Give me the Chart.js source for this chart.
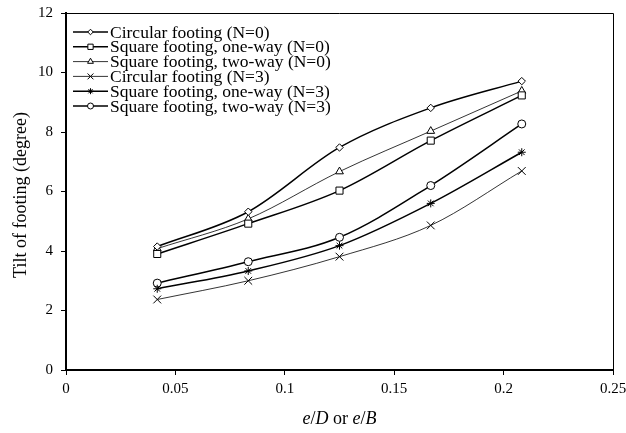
<!DOCTYPE html>
<html>
<head>
<meta charset="utf-8">
<script src="https://cdn.jsdelivr.net/npm/chart.js@4/dist/chart.umd.min.js"></script>
<style>
html,body{margin:0;padding:0;background:#fff;}
#wrap{width:626px;height:433px;position:relative;}
</style>
</head>
<body>
<div id="wrap"><canvas id="c" width="626" height="433"></canvas></div>
<script>
const xValues = [0.0417, 0.0833, 0.125, 0.1667, 0.2083];
const xTickLabels = ["0", "0.05", "0.1", "0.15", "0.2", "0.25"];
const yTickLabels = ["0", "2", "4", "6", "8", "10", "12"];
const seriesNames = [
  "Circular footing (N=0)",
  "Square footing, one-way (N=0)",
  "Square footing, two-way (N=0)",
  "Circular footing (N=3)",
  "Square footing, one-way (N=3)",
  "Square footing, two-way (N=3)"
];
const circularN0 = [4.15, 5.32, 7.48, 8.81, 9.71];
const squareOneWayN0 = [3.9, 4.92, 6.03, 7.71, 9.23];
const squareTwoWayN0 = [4.08, 5.08, 6.67, 8.03, 9.38];
const circularN3 = [2.37, 3.0, 3.81, 4.86, 6.69];
const squareOneWayN3 = [2.73, 3.33, 4.18, 5.6, 7.32];
const squareTwoWayN3 = [2.92, 3.64, 4.46, 6.2, 8.27];

const seriesValues = [circularN0, squareOneWayN0, squareTwoWayN0, circularN3, squareOneWayN3, squareTwoWayN3];
const styles = [
  {pointStyle:'rectRot', w:1.5, r:3.7},
  {pointStyle:'rect', w:1.5, r:5},
  {pointStyle:'triangle', w:0.8, r:4.5},
  {pointStyle:'crossRot', w:0.8, r:5.5},
  {pointStyle:'star', w:1.5, r:4},
  {pointStyle:'circle', w:1.5, r:4}
];

const datasets = seriesValues.map((vals, i) => ({
  label: seriesNames[i],
  data: vals.map((v, j) => ({x: xValues[j], y: v})),
  borderColor: '#000',
  backgroundColor: '#fff',
  borderWidth: styles[i].w,
  pointStyle: styles[i].pointStyle,
  pointRadius: styles[i].r,
  pointBorderWidth: 1,
  pointBorderColor: '#000',
  pointBackgroundColor: '#fff',
  cubicInterpolationMode: 'monotone',
  fill: false
}));

const serif = "'Liberation Serif', 'Times New Roman', serif";

const customPlugin = {
  id: 'custom',
  afterDraw(chart) {
    const ctx = chart.ctx;
    const a = chart.chartArea;
    ctx.save();
    // top and right frame
    ctx.strokeStyle = '#000';
    ctx.lineWidth = 1;
    ctx.beginPath();
    ctx.moveTo(a.left, a.top + 0.5);
    ctx.lineTo(a.right + 0.5, a.top + 0.5);
    ctx.lineTo(a.right + 0.5, a.bottom);
    ctx.stroke();

    // legend
    const lx0 = 73, lx1 = 108, tx = 110;
    let ly = 32;
    const step = 14.8;
    ctx.font = "17.5px " + serif;
    ctx.textBaseline = 'middle';
    ctx.fillStyle = '#000';
    datasets.forEach((ds, i) => {
      const y = ly + i * step;
      ctx.lineWidth = ds.borderWidth;
      ctx.beginPath();
      ctx.moveTo(lx0, y);
      ctx.lineTo(lx1, y);
      ctx.stroke();
      ctx.lineWidth = 1;
      ctx.fillStyle = '#fff';
      Chart.helpers.drawPoint(ctx, {pointStyle: ds.pointStyle, radius: ds.pointRadius * 0.75, rotation: 0, borderWidth: 1}, (lx0 + lx1) / 2, y);
      ctx.fillStyle = '#000';
      ctx.fillText(ds.label, tx, y + 1);
    });

    // y axis title
    ctx.save();
    ctx.translate(21, 195);
    ctx.rotate(-Math.PI / 2);
    ctx.textAlign = 'center';
    ctx.textBaseline = 'middle';
    ctx.font = "18px " + serif;
    ctx.fillText("Tilt of footing (degree)", 0, 0);
    ctx.restore();

    // x axis title with italics
    const parts = [["e", true], ["/", false], ["D", true], [" or ", false], ["e", true], ["/", false], ["B", true]];
    let total = 0;
    parts.forEach(p => { ctx.font = (p[1] ? "italic " : "") + "18px " + serif; total += ctx.measureText(p[0]).width; });
    let x = (a.left + a.right) / 2 - total / 2;
    ctx.textAlign = 'left';
    ctx.textBaseline = 'middle';
    parts.forEach(p => { ctx.font = (p[1] ? "italic " : "") + "18px " + serif; ctx.fillText(p[0], x, 419); x += ctx.measureText(p[0]).width; });
    ctx.restore();
  }
};

new Chart(document.getElementById('c'), {
  type: 'line',
  data: { datasets },
  options: {
    responsive: false,
    animation: false,
    layout: { padding: { top: 13, right: 13, left: 0, bottom: 0 } },
    plugins: { legend: { display: false }, tooltip: { enabled: false } },
    scales: {
      x: {
        type: 'linear',
        min: 0, max: 0.25,
        ticks: {
          stepSize: 0.05,
          color: '#000',
          font: { family: serif, size: 15 },
          padding: 5,
          maxRotation: 0,
          callback: (v, i) => xTickLabels[i]
        },
        grid: { drawOnChartArea: false, drawTicks: true, tickLength: 5, color: '#000' },
        border: { display: true, width: 2, color: '#000' },
        afterFit: s => { s.height = 63; s.paddingLeft = 0; s.paddingRight = 0; }
      },
      y: {
        min: 0, max: 12,
        ticks: {
          stepSize: 2,
          color: '#000',
          font: { family: serif, size: 15 },
          padding: 8,
          callback: (v, i) => yTickLabels[i]
        },
        grid: { drawOnChartArea: false, drawTicks: true, tickLength: 5, color: '#000' },
        border: { display: true, width: 2, color: '#000' },
        afterFit: s => { s.width = 66; s.paddingTop = 0; s.paddingBottom = 0; }
      }
    }
  },
  plugins: [customPlugin]
});
</script>
</body>
</html>
